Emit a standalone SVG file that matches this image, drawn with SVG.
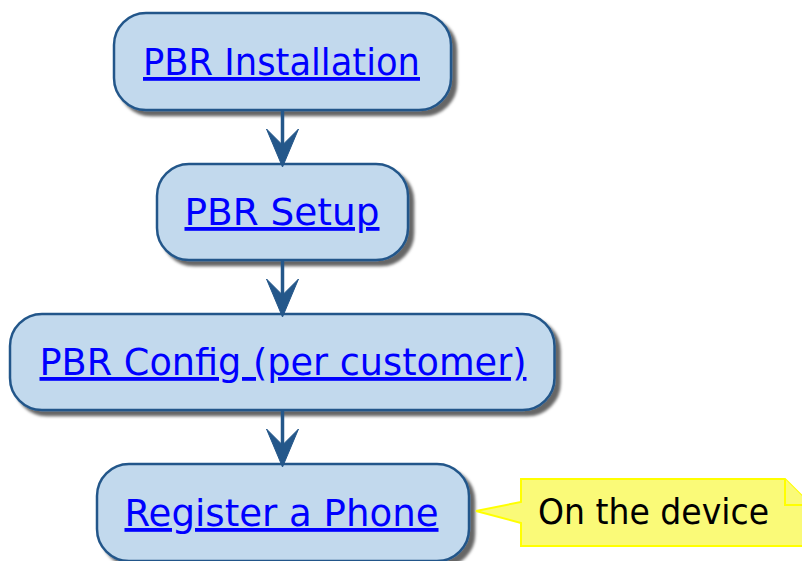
<svg xmlns="http://www.w3.org/2000/svg" width="802" height="561" viewBox="0 0 802 561">
<defs>
<filter id="sh" x="-10%" y="-10%" width="130%" height="140%">
<feGaussianBlur in="SourceAlpha" stdDeviation="1.8"/>
<feOffset dx="5" dy="5" result="b"/>
<feColorMatrix in="b" type="matrix" values="0 0 0 0 0  0 0 0 0 0  0 0 0 0 0  0 0 0 0.6 0"/>
<feMerge><feMergeNode/><feMergeNode in="SourceGraphic"/></feMerge>
</filter>
</defs>
<style>
.act{fill:#C2D9ED;stroke:#24578A;stroke-width:2.5;filter:url(#sh)}
.lbl{font-family:"DejaVu Sans",sans-serif;font-size:38px;fill:#0000FF;text-decoration:underline}
.edge{stroke:#24578A;stroke-width:3.5;fill:none}
.head{fill:#24578A;stroke:#24578A;stroke-width:1}
.note{fill:#FAFA78;stroke:#FFFF00;stroke-width:2}
.ntxt{font-family:"DejaVu Sans",sans-serif;font-size:35px;fill:#000000}
</style>
<rect width="802" height="561" fill="#FFFFFF"/>
<g id="n1">
<rect class="act" x="114" y="13" width="337" height="97" rx="32" ry="32"/>
<text class="lbl" x="143" y="75" textLength="277" lengthAdjust="spacingAndGlyphs">PBR Installation</text>
</g>
<g id="n2">
<rect class="act" x="157" y="164" width="251" height="96" rx="32" ry="32"/>
<text class="lbl" x="184.5" y="225" textLength="195" lengthAdjust="spacingAndGlyphs">PBR Setup</text>
</g>
<g id="n3">
<rect class="act" x="10" y="314" width="544.5" height="96" rx="32" ry="32"/>
<text class="lbl" x="39.5" y="375" textLength="487" lengthAdjust="spacingAndGlyphs">PBR Config (per customer)</text>
</g>
<g id="n4">
<rect class="act" x="97" y="464" width="372" height="97" rx="32" ry="32"/>
<text class="lbl" x="124.5" y="526" textLength="314" lengthAdjust="spacingAndGlyphs">Register a Phone</text>
</g>
<g id="note">
<path class="note" d="M521,479 L785,479 L811,505 L811,546 L521,546 L521,523 L476,511 L521,502 Z"/>
<path class="note" d="M785,479 L785,505 L811,505"/>
<text class="ntxt" x="538" y="524" textLength="231" lengthAdjust="spacingAndGlyphs">On the device</text>
</g>
<g id="connectors">
<line class="edge" x1="282.5" y1="111" x2="282.5" y2="150"/>
<polygon class="head" points="282.5,167 266.5,129 282.5,145 298.5,129"/>
<line class="edge" x1="282.5" y1="261" x2="282.5" y2="300"/>
<polygon class="head" points="282.5,317 266.5,279 282.5,295 298.5,279"/>
<line class="edge" x1="282.5" y1="411" x2="282.5" y2="450"/>
<polygon class="head" points="282.5,467 266.5,429 282.5,445 298.5,429"/>
</g>
</svg>
